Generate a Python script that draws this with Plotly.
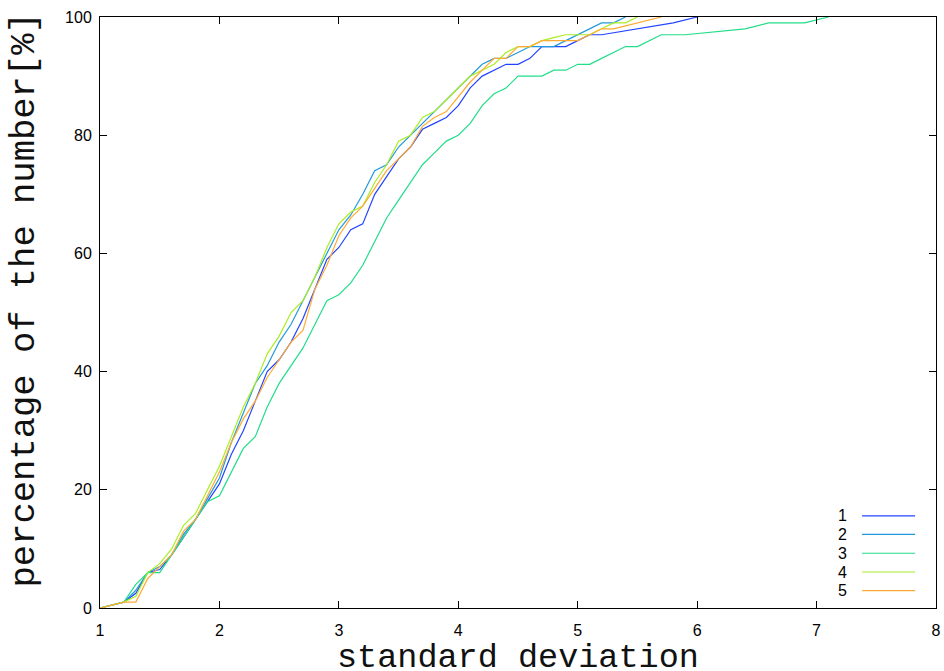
import plotly.graph_objects as go

# ---- data ----
x1 = [1.0,1.1,1.2,1.3,1.4,1.5,1.6,1.7,1.8,1.9,2.0,2.1,2.2,2.3,2.4,2.5,2.6,2.7,2.8,2.9,
      3.0,3.1,3.2,3.3,3.4,3.5,3.6,3.7,3.8,3.9,4.0,4.1,4.2,4.3,4.4,4.5,4.6,4.7,4.8,4.9,
      5.0,5.1,5.2,5.8,6.0]
y1 = [0,0.5,1,2.5,6,6.5,9,12,15,18,21,26,30,35,40,42,45,49,54,59,
      61,64,65,70,73,76,78,81,82,83,85,88,90,91,92,92,93,95,95,95,
      96,97,97,99,100]

x2 = [1.0,1.1,1.2,1.3,1.4,1.5,1.6,1.7,1.8,1.9,2.0,2.1,2.2,2.3,2.4,2.5,2.6,2.7,2.8,2.9,
      3.0,3.1,3.2,3.3,3.4,3.5,3.6,3.7,3.8,3.9,4.0,4.1,4.2,4.3,4.4,4.5,4.6,4.7,4.8,4.9,
      5.0,5.1,5.2,5.3,5.4]
y2 = [0,0.5,1,3,6,7,9,12.5,15,18.5,22,28,33,38,41,45,48,52,56,60,
      64,66.5,70,74,75,78,80,82,84,86,88,90,92,93,93,94,95,95,95,96,
      97,98,99,99,100]

x3 = [1.0,1.1,1.2,1.3,1.4,1.5,1.6,1.7,1.8,1.9,2.0,2.1,2.2,2.3,2.4,2.5,2.6,2.7,2.8,2.9,
      3.0,3.1,3.2,3.3,3.4,3.5,3.6,3.7,3.8,3.9,4.0,4.1,4.2,4.3,4.4,4.5,4.6,4.7,4.8,4.9,
      5.0,5.1,5.2,5.3,5.4,5.5,5.7,5.9,6.4,6.6,6.9,7.1]
y3 = [0,0.5,1,4,6,6,9,12,15,18,19,23,27,29,34,38,41,44,48,52,
      53,55,58,62,66,69,72,75,77,79,80,82,85,87,88,90,90,90,91,91,
      92,92,93,94,95,95,97,97,98,99,99,100]

x4 = [1.0,1.1,1.2,1.3,1.4,1.5,1.6,1.7,1.8,1.9,2.0,2.1,2.2,2.3,2.4,2.5,2.6,2.7,2.8,2.9,
      3.0,3.1,3.2,3.3,3.4,3.5,3.6,3.7,3.8,3.9,4.0,4.1,4.2,4.3,4.4,4.5,4.6,4.7,4.8,4.9,
      5.0,5.1,5.2,5.3,5.4,5.5]
y4 = [0,0.5,1,2,6,7.5,10,14,16,20,24,29,34,38,43,46,50,52,56,61,
      65,67,68,72,75,79,80,83,84,86,88,90,91,92,94,95,95,96,96.5,97,
      97,97,98,99,99,100]

x5 = [1.0,1.1,1.2,1.3,1.4,1.5,1.6,1.7,1.8,1.9,2.0,2.1,2.2,2.3,2.4,2.5,2.6,2.7,2.8,2.9,
      3.0,3.1,3.2,3.3,3.4,3.5,3.6,3.7,3.8,3.9,4.0,4.1,4.2,4.3,4.4,4.5,4.6,4.7,4.8,4.9,
      5.0,5.1,5.2,5.3,5.7]
y5 = [0,0.5,1,1,5,7,9,13,15,19,23,28,32,35,39,42,45,47,54,58,
      63,66,68,71,74,76,78,81.5,83,84,86.5,89,91,93,93,95,95,96,96,96,
      96,97,98,98,100]

series_names = ["1", "2", "3", "4", "5"]
series_x = [x1, x2, x3, x4, x5]
series_y = [y1, y2, y3, y4, y5]
colors = ["#2244ff", "#2299dd", "#22dd88", "#aaee22", "#ffaa33"]

x_ticks = [1, 2, 3, 4, 5, 6, 7, 8]
y_ticks = [0, 20, 40, 60, 80, 100]
x_title = "standard deviation"
y_title = "percentage of the number[%]"

fig = go.Figure()
for name, xs, ys, c in zip(series_names, series_x, series_y, colors):
    fig.add_trace(go.Scatter(x=xs, y=ys, mode="lines", name=name,
                             line=dict(color=c, width=1.2), showlegend=False))

# gnuplot-style key: label on the left, line sample on the right
key_y = [0.156, 0.1247, 0.0926, 0.0609, 0.0293]
for name, c, ky in zip(series_names, colors, key_y):
    fig.add_annotation(x=0.8963, y=ky, xref="paper", yref="paper", text=name,
                       showarrow=False, xanchor="right", yanchor="middle",
                       font=dict(family="Liberation Sans, Arial", size=16, color="black"))
    fig.add_shape(type="line", xref="paper", yref="paper", x0=0.9116, x1=0.975,
                  y0=ky, y1=ky, line=dict(color=c, width=1.2))

fig.add_annotation(x=0.5, y=-0.0846, xref="paper", yref="paper", text=x_title,
                   showarrow=False, xanchor="center", yanchor="middle",
                   font=dict(family="Liberation Mono, Courier New, monospace", size=33.5, color="#111111"))
fig.add_annotation(x=-0.0905, y=0.521, xref="paper", yref="paper", text=y_title,
                   showarrow=False, xanchor="center", yanchor="middle", textangle=-90,
                   font=dict(family="Liberation Mono, Courier New, monospace", size=35.5, color="#111111"))

axis_common = dict(showline=True, linecolor="black", linewidth=1, mirror="ticks",
                   ticks="inside", ticklen=7, tickcolor="black", tickwidth=1,
                   showgrid=False, zeroline=False)

fig.update_xaxes(range=[1, 8], tickvals=x_ticks, ticktext=[str(v) for v in x_ticks],
                 tickfont=dict(family="Liberation Sans Narrow, Liberation Sans, Arial", size=16, color="black"),
                 ticklabelstandoff=8, **axis_common)
fig.update_yaxes(range=[0, 100], tickvals=y_ticks, ticktext=[str(v) for v in y_ticks],
                 tickfont=dict(family="Liberation Sans, Arial", size=16, color="black"),
                 ticklabelstandoff=4, **axis_common)

fig.update_layout(width=944, height=671, margin=dict(l=100, r=8, t=17, b=63, autoexpand=False),
                  paper_bgcolor="white", plot_bgcolor="white", showlegend=False)

fig.write_html("out.html")
